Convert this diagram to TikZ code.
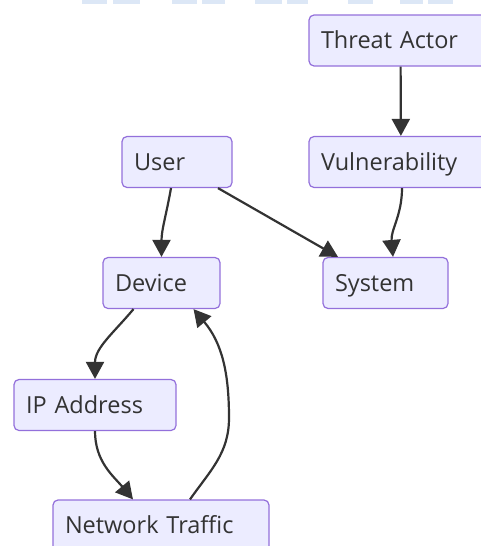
\documentclass[tikz,border=0pt]{standalone}
\usepackage{fontspec}
\setmainfont{Open Sans}
\usepackage{xcolor}
\usetikzlibrary{arrows.meta}

\definecolor{boxfill}{HTML}{ECECFF}
\definecolor{boxline}{HTML}{9370DB}
\definecolor{ink}{HTML}{333333}
\definecolor{strip}{HTML}{DCE7F6}

\begin{document}
\begin{tikzpicture}[x=1pt, y=1pt,
  entity/.style={draw=boxline, fill=boxfill, line width=1.2pt, rounded corners=5pt,
    minimum height=51pt, inner xsep=12pt, align=left, text=ink,
    text height=16.8pt, text depth=0pt, font=\fontsize{23.5}{27}\selectfont},
  flow/.style={draw=ink, line width=2.2pt, -{Triangle[length=17pt, width=18pt]}}]
  \useasboundingbox (0,0) rectangle (481,-546);
  \clip (0,0) rectangle (481,-546);

  % strip along the top edge
  \foreach \a/\b in {82/107, 113/140, 172/197, 202/225, 255/282, 287/308, 348/373, 400/423, 428/453} {
    \fill[strip] (\a,0) rectangle (\b,-4);
  }

  % entities
  \node[entity, text width=159pt] (actor) at (400.5,-40.5) {Threat Actor};
  \node[entity, text width=160pt] (vuln) at (401,-162) {Vulnerability};
  \node[entity, text width=86pt] (user) at (177,-162) {User};
  \node[entity, text width=93pt] (device) at (161.5,-283) {Device};
  \node[entity, text width=101pt] (system) at (385.5,-283) {System};
  \node[entity, text width=138pt] (ip) at (95,-405) {IP Address};
  \node[entity, text width=192pt] (traffic) at (161,-525.5) {Network Traffic};
  \coordinate (back) at (229,-418);

  % relations
  \draw[flow] (actor) -- (vuln);
  \draw[flow] ([xshift=1pt]vuln.south) to[out=-90, in=95] ([xshift=7.5pt]system.north);
  \draw[flow] ([xshift=-6pt]user.south) to[out=-100, in=90] (device.north);
  \draw[flow] ([xshift=41pt]user.south) -- ([xshift=-47.5pt]system.north);
  \draw[flow] ([xshift=-28pt]device.south) to[out=-130, in=90] (ip.north);
  \draw[flow] (ip.south) to[out=-90, in=130] ([xshift=-28pt]traffic.north);
  \draw[flow] ([xshift=29pt]traffic.north) to[out=55, in=-90] (back)
    to[out=90, in=-50] ([xshift=32pt]device.south);
\end{tikzpicture}
\end{document}
